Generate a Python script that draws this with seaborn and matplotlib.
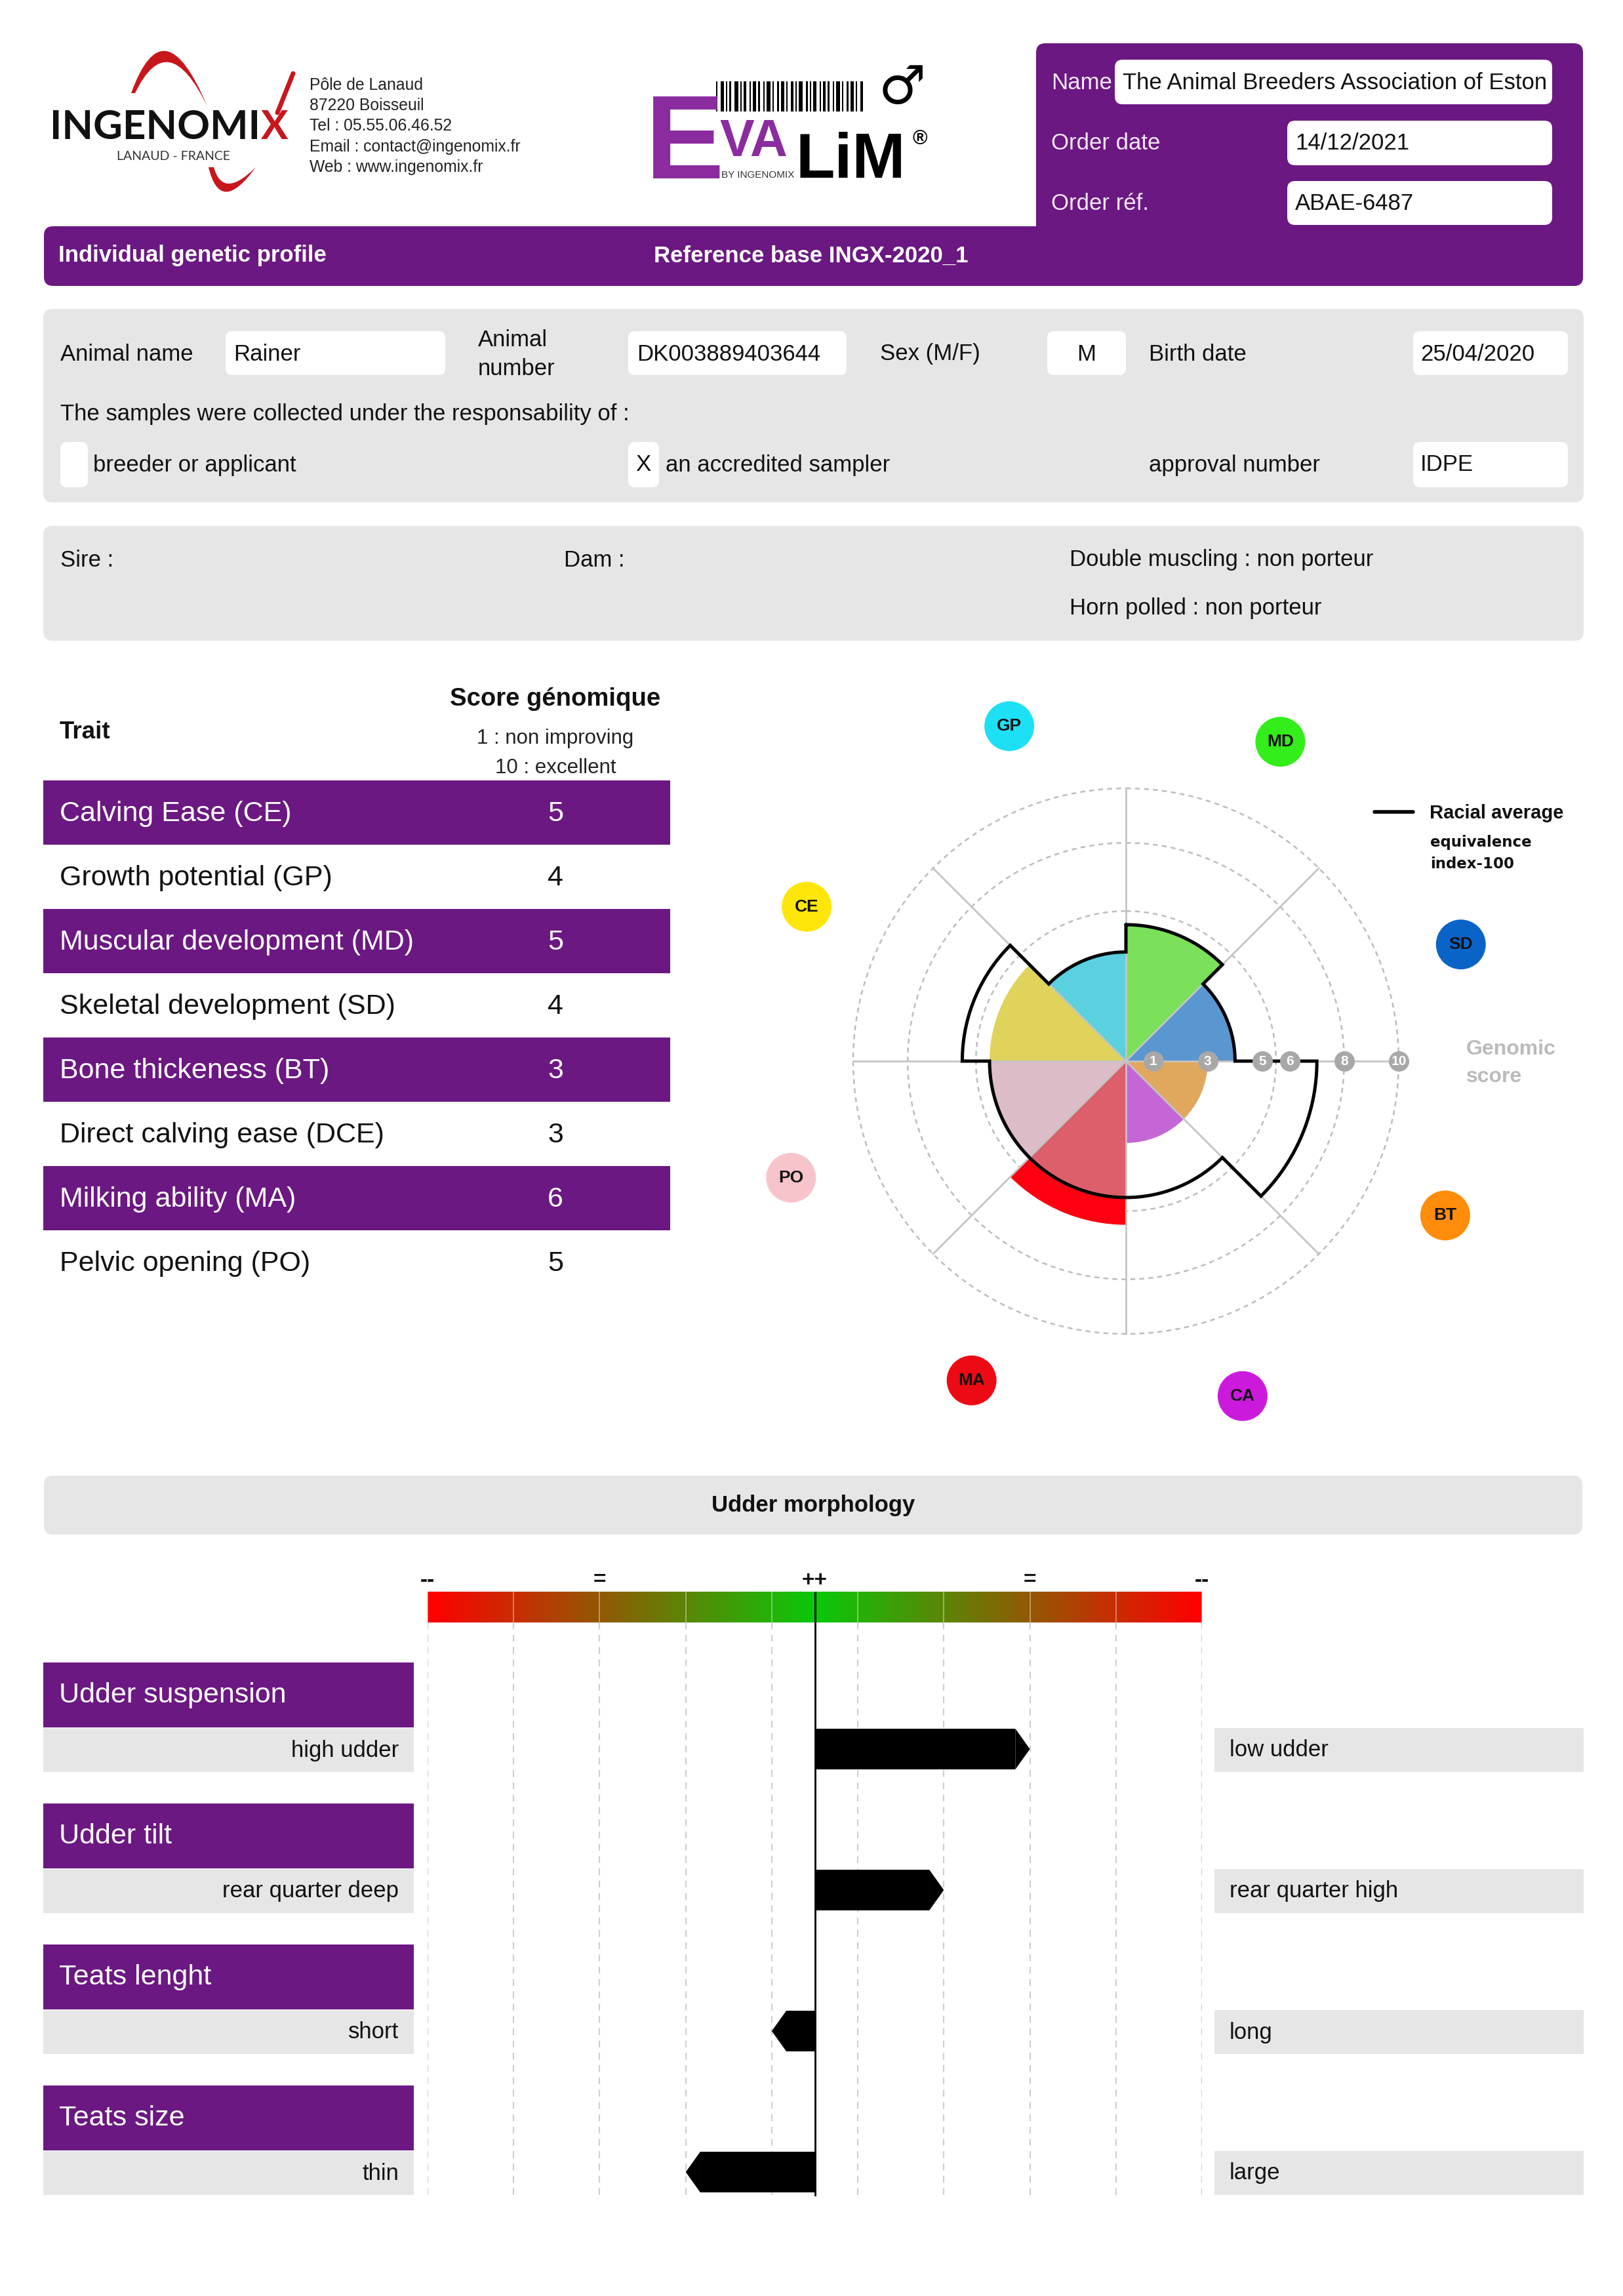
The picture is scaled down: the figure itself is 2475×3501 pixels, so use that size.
import numpy as np
import matplotlib
matplotlib.use("Agg")
import matplotlib.pyplot as plt
import seaborn as sns
from matplotlib import font_manager
from matplotlib.patches import FancyBboxPatch, Rectangle, PathPatch
from matplotlib.path import Path
from matplotlib.colors import LinearSegmentedColormap

# ---------------- data ----------------
headerLabels = ["Name", "Order date", "Order réf."]
headerValues = ["The Animal Breeders Association of Eston", "14/12/2021", "ABAE-6487"]

addressLines = ["Pôle de Lanaud", "87220 Boisseuil", "Tel : 05.55.06.46.52",
                "Email : contact@ingenomix.fr", "Web : www.ingenomix.fr"]

animalName = "Rainer"
animalNumber = "DK003889403644"
animalSex = "M"
birthDate = "25/04/2020"
approvalNumber = "IDPE"
sireName = ""
damName = ""
doubleMuscling = "non porteur"
hornPolled = "non porteur"

traitNames = ["Calving Ease (CE)", "Growth potential (GP)", "Muscular development (MD)",
              "Skeletal development (SD)", "Bone thickeness (BT)", "Direct calving ease (DCE)",
              "Milking ability (MA)", "Pelvic opening (PO)"]
traitScores = [5, 4, 5, 4, 3, 3, 6, 5]

radarCodes = ["GP", "MD", "SD", "BT", "CA", "MA", "PO", "CE"]
radarScores = [4, 5, 4, 3, 3, 6, 5, 5]
racialAverage = [4, 5, 4, 7, 5, 5, 5, 6]
radarTicks = [1, 3, 5, 6, 8, 10]
radarRings = [5.5, 8, 10]
wedgeColors = ["#5bd0df", "#7be05a", "#5a96d0", "#e0a85c", "#c466d6", "#dc5f6b", "#dcbcc6", "#dfd35c"]
badgeColors = ["#1ee0f5", "#33ee1a", "#0a64c8", "#ff8c0a", "#cc1add", "#ee0a14", "#f8c4cc", "#ffe60a"]
excessColor = "#ff0010"

udderTraits = ["Udder suspension", "Udder tilt", "Teats lenght", "Teats size"]
udderLow = ["high udder", "rear quarter deep", "short", "thin"]
udderHigh = ["low udder", "rear quarter high", "long", "large"]
udderValues = [2.5, 1.5, -0.5, -1.5]
scaleLabels = ["--", "=", "++", "=", "--"]
scalePositions = [-4.5, -2.5, 0, 2.5, 4.5]

# ---------------- style ----------------
sns.set_theme(style="white")
plt.rcParams["font.family"] = ["Liberation Sans", "DejaVu Sans"]

PURPLE = "#6b1882"
GREY = "#e6e6e6"
LOGO_PURPLE = "#8b2c9e"
LOGO_RED = "#c8161d"
BODY = 25

installed = {f.name for f in font_manager.fontManager.ttflist}
narrow = "Liberation Sans Narrow" in installed

W, H = 2475, 3501
fig = plt.figure(figsize=(W / 100, H / 100), dpi=100)
page = fig.add_axes([0, 0, 1, 1])
page.set_xlim(0, W)
page.set_ylim(H, 0)
page.axis("off")


def box(x0, y0, x1, y1, color, r=12, z=1):
    p = FancyBboxPatch((x0, y0), x1 - x0, y1 - y0,
                       boxstyle=f"round,pad=0,rounding_size={r}",
                       facecolor=color, edgecolor="none", zorder=z)
    page.add_patch(p)
    return p


def txt(x, y, s, size=BODY, color="#111111", ha="left", va="center", **kw):
    return page.text(x, y, s, fontsize=size, color=color, ha=ha, va=va, **kw)


# ---------------- header: ingenomix logo ----------------
logoFont = ["Lato", "DejaVu Sans"]
ing = txt(76, 212, "INGENOMI", size=44.5, family=logoFont, weight="bold", color="#111111", va="baseline")
fig.canvas.draw()
ingEnd = ing.get_window_extent().x1
txt(ingEnd + 1, 212, "X", size=44.5, family=logoFont, weight="bold", color=LOGO_RED, va="baseline")
txt(265, 238, "LANAUD - FRANCE", size=14, family=logoFont, color="#333333", ha="center")
swoosh = Path([(200, 142), (250, 4), (316, 162), (316, 162), (256, 38), (206, 142), (200, 142)],
              [Path.MOVETO, Path.CURVE3, Path.CURVE3, Path.LINETO, Path.CURVE3, Path.CURVE3, Path.CLOSEPOLY])
page.add_patch(PathPatch(swoosh, facecolor=LOGO_RED, edgecolor="none", zorder=2))
swoosh2 = Path([(318, 255), (336, 330), (390, 255), (390, 255), (340, 305), (326, 255), (318, 255)],
               [Path.MOVETO, Path.CURVE3, Path.CURVE3, Path.LINETO, Path.CURVE3, Path.CURVE3, Path.CLOSEPOLY])
page.add_patch(PathPatch(swoosh2, facecolor=LOGO_RED, edgecolor="none", zorder=2))
page.plot([ingEnd + 26, ingEnd + 50], [172, 112], color=LOGO_RED, lw=5, solid_capstyle="round", zorder=2)

for i, line in enumerate(addressLines):
    txt(472, 130 + i * 31.2, line, size=17.8, color="#222222")

# ---------------- header: evalim logo ----------------
if narrow:
    txt(992, 272, "E", size=146, weight="bold", color=LOGO_PURPLE, va="baseline",
        family=["Liberation Sans Narrow"])
else:
    txt(984, 272, "E", size=130, weight="bold", color=LOGO_PURPLE, va="baseline")
txt(1097, 238, "VA", size=57, weight="bold", color=LOGO_PURPLE, va="baseline")
txt(1100, 271, "BY INGENOMIX", size=11, color="#333333", va="baseline")
txt(1214, 271, "LiM", size=70, weight="bold", color="black", va="baseline")
txt(1392, 212, "®", size=22, weight="bold", color="black")
txt(1340, 136, "♂", size=58, weight="bold", color="black", family=["DejaVu Sans"])
barWidths = [2, 5, 2, 3, 6, 2, 4, 2, 5, 3, 2, 6, 2, 3, 5, 2, 4, 2, 6, 3, 2, 5, 2, 4, 3, 2, 6, 2, 3, 5, 2, 4]
bx = 1092
for k, bw in enumerate(barWidths):
    if bx + bw > 1342:
        break
    page.add_patch(Rectangle((bx, 124), bw, 46, facecolor="black", edgecolor="none"))
    bx += bw + (3 if k % 3 else 5)

# ---------------- header: order box ----------------
box(1580, 66, 2414, 436, PURPLE, r=14)
box(67, 345, 2414, 436, PURPLE, r=14)
fieldX = [1700, 1963, 1963]
fieldY = [(91, 159), (184, 252), (276, 343)]
labelY = [126, 218, 311]
for lab, val, fx, (fy0, fy1), ly in zip(headerLabels, headerValues, fieldX, fieldY, labelY):
    txt(1603, ly, lab, size=BODY, color="#f5e8f7")
    f = box(fx, fy0, 2367, fy1, "white", r=12, z=2)
    t = txt(fx + 12, (fy0 + fy1) / 2 + 1, val, size=BODY, color="#111111", zorder=3)
    t.set_clip_path(f)
txt(89, 390, "Individual genetic profile", size=BODY, weight="bold", color="white")
txt(997, 390, "Reference base INGX-2020_1", size=BODY, weight="bold", color="white")

# ---------------- animal box ----------------
box(66, 471, 2415, 766, GREY, r=14)
txt(92, 540, "Animal name")
box(344, 505, 679, 572, "white", r=10, z=2)
txt(356, 540, animalName, zorder=3)
txt(729, 519, "Animal")
txt(729, 562, "number")
box(958, 505, 1291, 572, "white", r=10, z=2)
txt(971, 540, animalNumber, zorder=3)
txt(1342, 540, "Sex (M/F)")
box(1597, 505, 1717, 572, "white", r=10, z=2)
txt(1657, 540, animalSex, ha="center", zorder=3)
txt(1752, 540, "Birth date")
box(2155, 505, 2391, 572, "white", r=10, z=2)
txt(2166, 540, birthDate, zorder=3)
txt(92, 631, "The samples were collected under the responsability of :")
box(92, 674, 134, 743, "white", r=10, z=2)
txt(142, 709, "breeder or applicant")
box(958, 674, 1005, 743, "white", r=10, z=2)
txt(981, 709, "X", ha="center", zorder=3)
txt(1015, 709, "an accredited sampler")
txt(1752, 709, "approval number")
box(2155, 674, 2391, 743, "white", r=10, z=2)
txt(2166, 709, approvalNumber, zorder=3)

box(66, 802, 2415, 977, GREY, r=14)
txt(92, 854, "Sire : " + sireName)
txt(860, 854, "Dam : " + damName)
txt(1631, 854, "Double muscling : " + doubleMuscling)
txt(1631, 927, "Horn polled : " + hornPolled)

# ---------------- trait table ----------------
txt(91, 1116, "Trait", size=26.5, weight="bold")
txt(847, 1066, "Score génomique", size=27.5, weight="bold", ha="center")
txt(847, 1126, "1 : non improving", size=22.5, ha="center", color="#222222")
txt(847, 1171, "10 : excellent", size=22.5, ha="center", color="#222222")
rowH = 98
for i, (name, score) in enumerate(zip(traitNames, traitScores)):
    top = 1190 + i * rowH
    fg = "#111111"
    if i % 2 == 0:
        page.add_patch(Rectangle((66, top), 956, rowH, facecolor=PURPLE, edgecolor="none"))
        fg = "white"
    txt(91, top + rowH / 2 + 2, name, size=31, color=fg)
    txt(847, top + rowH / 2 + 2, str(score), size=31, color=fg, ha="center")

# ---------------- radar ----------------
cx, cy, unit, rmax = 1717, 1618, 41.6, 14
rpx = unit * rmax
ax_r = fig.add_axes([(cx - rpx) / W, (H - cy - rpx) / H, 2 * rpx / W, 2 * rpx / H], projection="polar")
ax_r.set_theta_zero_location("N")
ax_r.set_theta_direction(-1)
ax_r.set_ylim(0, rmax)
ax_r.grid(False)
ax_r.set_xticks([])
ax_r.set_yticks([])
ax_r.spines["polar"].set_visible(False)
ax_r.patch.set_alpha(0)

sector = np.deg2rad(45)
centers = np.deg2rad(-22.5 + 45 * np.arange(len(radarCodes)))
base = np.minimum(radarScores, racialAverage)
ax_r.bar(centers, base, width=sector, color=wedgeColors, linewidth=0, zorder=2)
for th, sc, av in zip(centers, radarScores, racialAverage):
    if sc > av:
        ax_r.bar(th, sc - av, bottom=av, width=sector, color=excessColor, linewidth=0, zorder=2)

full = np.linspace(0, 2 * np.pi, 400)
for rr in radarRings:
    ax_r.plot(full, np.full_like(full, rr), ls=(0, (3, 2.5)), color="#bdbdbd", lw=1.8, zorder=1)
for k in range(8):
    ax_r.plot([k * sector, k * sector], [0, 10], color="#c4c4c4", lw=2, zorder=3)

# racial average contour (start at MD sector so angles grow monotonically)
order = list(range(1, 8)) + [0]
cT, cR = [], []
for j, i in enumerate(order):
    t0 = j * sector
    ts = np.linspace(t0, t0 + sector, 60)
    cT.extend(ts)
    cR.extend([racialAverage[i]] * len(ts))
cT.append(2 * np.pi)
cR.append(racialAverage[order[0]])
ax_r.plot(cT, cR, color="black", lw=3.6, zorder=4, solid_joinstyle="miter")

ax_r.scatter([np.pi / 2] * len(radarTicks), radarTicks, s=500, color="#a8a8a8", zorder=5, linewidths=0)
for tv in radarTicks:
    ax_r.text(np.pi / 2, tv, str(tv), color="white", fontsize=15, weight="bold",
              ha="center", va="center", zorder=6)

badgeTheta = centers + np.deg2rad(3.3)
ax_r.scatter(badgeTheta, [13] * len(radarCodes), s=2990, color=badgeColors, zorder=5,
             linewidths=0, clip_on=False)
for th, code in zip(badgeTheta, radarCodes):
    ax_r.text(th, 13, code, fontsize=19, weight="bold", color="#111111",
              ha="center", va="center", zorder=6, clip_on=False)

page.plot([2096, 2155], [1238, 1238], color="black", lw=4)
txt(2180, 1240, "Racial average", size=21, weight="bold")
txt(2181, 1285, "equivalence", size=16.5, weight="bold", family=["DejaVu Sans"])
txt(2181, 1318, "index-100", size=16.5, weight="bold", family=["DejaVu Sans"])
txt(2236, 1600, "Genomic", size=23, weight="bold", color="#bbbbbb")
txt(2236, 1642, "score", size=23, weight="bold", color="#bbbbbb")

# ---------------- udder morphology ----------------
box(67, 2250, 2413, 2340, GREY, r=14)
txt(1240, 2296, "Udder morphology", size=25, weight="bold", ha="center")

pitch = 215
for i, (tr, lo, hi) in enumerate(zip(udderTraits, udderLow, udderHigh)):
    off = i * pitch
    page.add_patch(Rectangle((66, 2535 + off), 565, 99, facecolor=PURPLE, edgecolor="none"))
    page.add_patch(Rectangle((66, 2635 + off), 565, 67, facecolor=GREY, edgecolor="none"))
    page.add_patch(Rectangle((1852, 2635 + off), 563, 67, facecolor=GREY, edgecolor="none"))
    txt(90, 2585 + off, tr, size=31, color="white")
    txt(608, 2669 + off, lo, ha="right")
    txt(1875, 2669 + off, hi)


def rowY(px):
    return (px - 2667) / pitch


uTop, uBot = 2390, 3349
ax_u = fig.add_axes([652 / W, (H - uBot) / H, 1181 / W, (uBot - uTop) / H])
ax_u.patch.set_alpha(0)

tip = 0.17
barH = 0.29
bodies = [v - np.sign(v) * tip for v in udderValues]
sns.barplot(x=bodies, y=udderTraits, orient="h", color="black", width=barH,
            errorbar=None, linewidth=0, saturation=1, ax=ax_u, zorder=4)
for i, (v, b) in enumerate(zip(udderValues, bodies)):
    ax_u.fill([b, v, b], [i - barH / 2, i, i + barH / 2], color="black", lw=0, zorder=4)

gridPos = np.arange(-4.5, 4.6, 1.0)
gy0, gy1 = rowY(2427), rowY(2474)
ax_u.vlines(gridPos, gy1, rowY(uBot), colors="#cfcfcf", linestyles=(0, (5, 4)), lw=1.5, zorder=1)
cmap = LinearSegmentedColormap.from_list("udder", ["#0ac80a", "#ff0000"])
grad = np.abs(np.linspace(-4.5, 4.5, 600))[None, :]
ax_u.imshow(grad, extent=(-4.5, 4.5, gy1, gy0), aspect="auto", cmap=cmap, zorder=2)
ax_u.vlines(gridPos, gy0, gy1, colors="white", alpha=0.45, lw=1.2, zorder=3)
ax_u.vlines(0, gy0, rowY(uBot), colors="black", lw=2, zorder=5)
for sp, sl in zip(scalePositions, scaleLabels):
    ax_u.text(sp, rowY(2410), sl, fontsize=24, weight="bold", ha="center", va="center",
              color="#111111", clip_on=False)

ax_u.set_xlim(-4.5, 4.5)
ax_u.set_ylim(rowY(uBot), rowY(uTop))
ax_u.axis("off")

fig.savefig("out.png", dpi=100)
